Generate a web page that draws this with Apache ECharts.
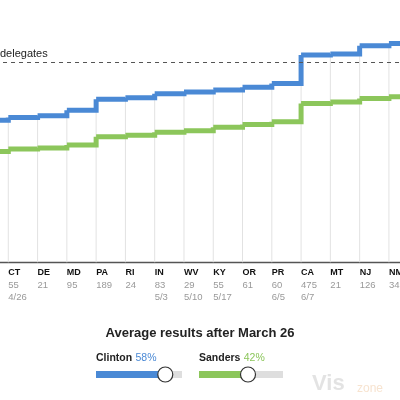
<!DOCTYPE html>
<html>
<head>
<meta charset="utf-8">
<script src="https://cdn.jsdelivr.net/npm/echarts@6/dist/echarts.min.js"></script>
<style>
html,body{margin:0;padding:0;background:#fff;}
#c{width:400px;height:400px;}
</style>
</head>
<body>
<div id="c"></div>
<script>
// Categories (first and last are the off-screen neighbours)
var states = ['', 'CT', 'DE', 'MD', 'PA', 'RI', 'IN', 'WV', 'KY', 'OR', 'PR', 'CA', 'MT', 'NJ', 'NM', ''];
var delegates = ['', '55', '21', '95', '189', '24', '83', '29', '55', '61', '60', '475', '21', '126', '34', ''];
var dates = ['', '4/26', '', '', '', '', '5/3', '5/10', '5/17', '', '6/5', '6/7', '', '', '', ''];
// Cumulative delegate estimates
var clinton = [1809, 1836, 1852, 1908, 2015, 2032, 2070, 2088, 2107, 2136, 2173, 2454, 2464, 2546, 2570, 2570];
var sanders = [1498, 1522, 1532, 1562, 1645, 1660, 1690, 1705, 1738, 1766, 1792, 1975, 1988, 2024, 2040, 2040];
var needed = 2383;
var neededLabel = 'delegates';
var titleText = 'Average results after March 26';
var clintonShare = 58;
var sandersShare = 42;
var sliderMax = 72;

var BLUE = '#4a89d5';
var GREEN = '#8cc65b';

var chart = echarts.init(document.getElementById('c'));

var gridBars = clinton.map(function (v, i) {
  return (i === 0 || i === clinton.length - 1) ? '-' : v;
});

function stepData(arr) {
  var out = [];
  for (var i = 0; i < arr.length - 1; i++) out.push([i, arr[i], arr[i + 1]]);
  return out;
}

function stepSeries(arr, color, z) {
  return {
    type: 'custom', z: z, silent: true, clip: true,
    data: stepData(arr),
    encode: { x: 0, y: 1 },
    renderItem: function (params, api) {
      var i = api.value(0), v = api.value(1), vn = api.value(2);
      var p0 = api.coord([i, v]);
      var p1 = api.coord([i + 1, v]);
      var p2 = api.coord([i + 1, vn]);
      return {
        type: 'polyline',
        shape: { points: [p0, p1, p2] },
        style: { stroke: color, lineWidth: 5, fill: null, lineJoin: 'miter', lineCap: 'butt' }
      };
    }
  };
}

function slider(x, y, w, share, color, name) {
  var frac = share / sliderMax;
  var kx = x + frac * w;
  return [
    { type: 'text', left: x, top: y - 22, style: {
        text: '{b|' + name + '} {p|' + share + '%}',
        rich: {
          b: { fontFamily: 'Liberation Sans', fontWeight: 'bold', fontSize: 10.5, fill: '#222' },
          p: { fontFamily: 'Liberation Sans', fontSize: 10.5, fill: color }
        }
      } },
    { type: 'rect', shape: { x: x, y: y - 3.5, width: w, height: 7 }, style: { fill: '#dedede' } },
    { type: 'rect', shape: { x: x, y: y - 3.5, width: kx - x, height: 7 }, style: { fill: color } },
    { type: 'circle', shape: { cx: kx, cy: y, r: 7.5 }, style: { fill: '#fff', stroke: '#333', lineWidth: 1.2 } }
  ];
}

var graphics = [
  { type: 'text', left: 'center', top: 327, style: { text: titleText, fontFamily: 'Liberation Sans', fontWeight: 'bold', fontSize: 13, fill: '#222' } },
  { type: 'text', left: 0, top: 48, style: { text: neededLabel, fontFamily: 'Liberation Sans', fontSize: 11, fill: '#222' } },
  { type: 'text', left: 312, top: 373, style: { text: 'Vis', fontFamily: 'Liberation Sans', fontWeight: 'bold', fontSize: 22, fill: 'rgba(200,200,200,0.5)' } },
  { type: 'text', left: 357, top: 383, style: { text: 'zone', fontFamily: 'Liberation Sans', fontSize: 12, fill: 'rgba(240,200,160,0.5)' } }
].concat(slider(96, 374.5, 86, clintonShare, BLUE, 'Clinton'))
 .concat(slider(199, 374.5, 84, sandersShare, GREEN, 'Sanders'));

chart.setOption({
  animation: false,
  grid: { left: -20.98, right: -18.2, top: 0, bottom: 137.7, outerBoundsMode: 'none', containLabel: false },
  xAxis: {
    type: 'category',
    data: states,
    boundaryGap: false,
    axisLine: { show: true, lineStyle: { color: '#555', width: 1.3 } },
    axisTick: { show: false },
    splitLine: { show: false },
    axisLabel: {
      interval: 0,
      align: 'left',
      margin: 4,
      formatter: function (v, i) {
        if (!v) return '';
        var s = '{n|' + v + '}\n{d|' + delegates[i] + '}';
        s += '\n{d|' + (dates[i] || ' ') + '}';
        return s;
      },
      rich: {
        n: { fontFamily: 'Liberation Sans', fontWeight: 'bold', fontSize: 9, color: '#111', lineHeight: 12.5 },
        d: { fontFamily: 'Liberation Sans', fontSize: 9.5, color: '#999', lineHeight: 12.5 }
      }
    }
  },
  yAxis: { type: 'value', min: 400, max: 3000, show: false, splitLine: { show: false } },
  series: [
    {
      type: 'bar', data: gridBars, barWidth: 1, z: 1,
      itemStyle: { color: '#e2e2e2' }, silent: true
    },
    stepSeries(sanders, GREEN, 3),
    stepSeries(clinton, BLUE, 4),
    {
      type: 'line', data: [], symbol: 'none', z: 5,
      markLine: {
        silent: true, symbol: 'none', label: { show: false },
        lineStyle: { color: '#555', type: [4, 4], width: 1 },
        data: [{ yAxis: needed }]
      }
    }
  ],
  graphic: graphics
});
</script>
</body>
</html>
